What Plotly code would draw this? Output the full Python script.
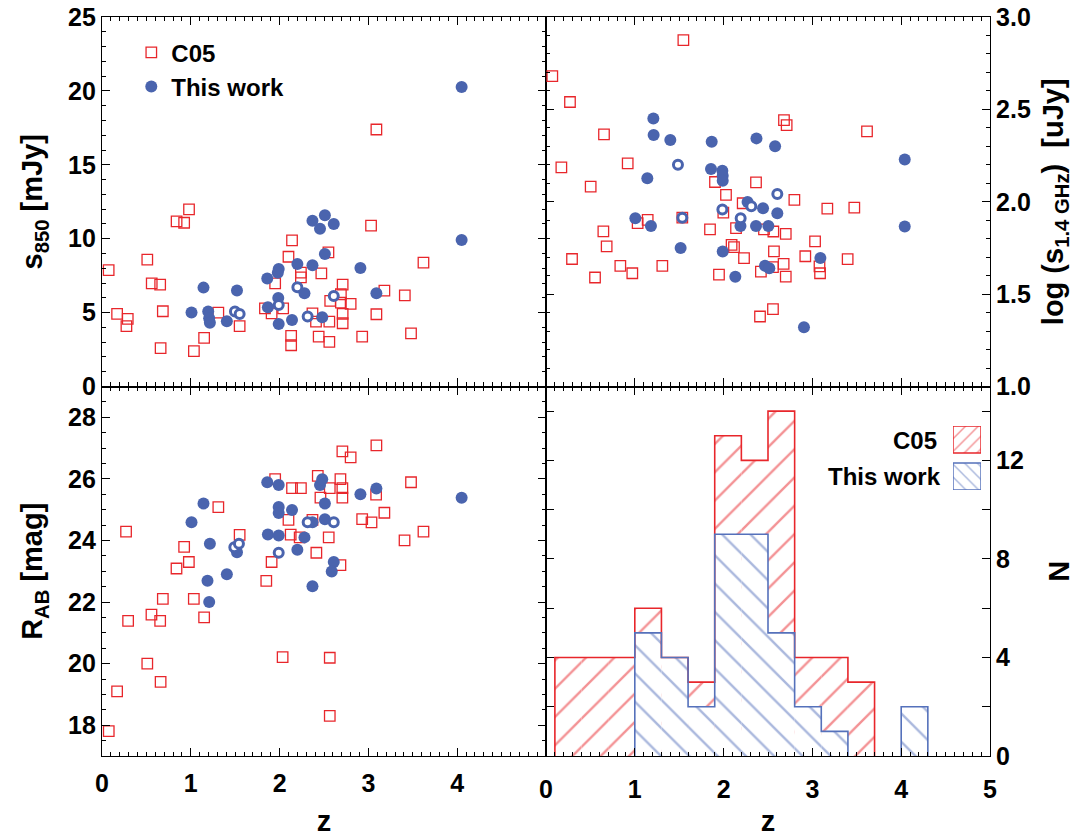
import plotly.graph_objects as go

RED = "#e8262b"
BLUE = "#4a64ae"
BLUE_LINE = "#5571bb"

# ---------------- data ----------------
# Panel 1: S850 vs z
c05_s850_z = [0.075, 0.17, 0.29, 0.275, 0.51, 0.56, 0.655, 0.685, 0.66, 0.84, 0.925, 0.98,
              1.035, 1.15, 1.31, 1.55, 1.835, 1.91, 1.95, 2.04, 2.10, 2.14, 2.24, 2.24,
              2.13, 2.13, 2.37, 2.41, 2.44, 2.47, 2.55, 2.57, 2.56, 2.56, 2.69, 2.71,
              2.69, 2.80, 2.71, 2.71, 2.93, 3.03, 3.09, 3.09, 3.18, 3.41, 3.48, 3.62]
c05_s850 = [7.88, 4.91, 4.57, 4.08, 8.58, 6.98, 6.89, 5.09, 2.59, 11.17, 11.08, 11.98,
            2.39, 3.29, 5.0, 4.08, 5.29, 4.95, 6.98, 5.29, 8.78, 9.89, 7.70, 7.39,
            3.42, 2.79, 4.95, 4.39, 3.38, 7.66, 9.08, 5.79, 4.39, 3.02, 6.24, 6.89,
            5.68, 5.59, 4.91, 4.28, 3.38, 10.88, 17.39, 4.89, 6.49, 6.17, 3.60, 8.38]
tw_s850_z = [1.008, 1.143, 1.196, 1.207, 1.215, 1.406, 1.52, 1.861, 1.99, 1.98, 1.985, 1.868,
             1.99, 2.14, 2.20, 2.28, 2.37, 2.455, 2.51, 2.61, 2.51, 2.37, 2.48, 2.91,
             3.09, 4.05, 4.05]
tw_s850 = [5.0, 6.69, 5.07, 4.62, 4.32, 4.41, 6.49, 7.30, 7.95, 7.70, 5.99, 5.36,
           4.23, 4.50, 8.29, 6.31, 11.22, 10.68, 11.58, 10.99, 8.96, 8.20, 4.68, 8.02,
           6.31, 20.27, 9.91]
tw_open_s850_z = [1.497, 1.55, 1.99, 2.20, 2.316, 2.61]
tw_open_s850 = [5.07, 4.91, 5.52, 6.71, 4.73, 6.13]

# Panel 2: log S1.4GHz vs z
c05_radio_z = [0.071, 0.27, 0.173, 0.503, 0.653, 0.646, 0.683, 0.293, 0.552, 0.837, 0.972, 0.92,
               1.032, 1.145, 1.31, 1.547, 1.535, 1.847, 1.903, 1.948, 2.027, 1.997, 2.09, 2.117,
               2.14, 2.23, 2.215, 2.365, 2.41, 2.42, 2.455, 2.56, 2.556, 2.556, 2.567, 2.676,
               2.70, 2.70, 2.68, 2.71, 2.797, 3.03, 2.92, 3.08, 3.086, 3.168, 3.397, 3.472, 3.615]
c05_radio = [2.68, 2.54, 2.186, 2.082, 2.365, 1.84, 1.758, 1.69, 1.59, 1.653, 1.613, 2.208,
             1.884, 1.902, 1.653, 2.875, 1.914, 1.851, 2.107, 1.606, 2.037, 1.941, 1.767, 1.754,
             1.857, 1.695, 1.992, 2.105, 1.379, 1.622, 1.851, 1.839, 1.646, 1.419, 1.731, 1.664,
             1.826, 1.595, 2.442, 2.415, 2.010, 1.785, 1.705, 1.65, 1.613, 1.963, 1.689, 1.968, 2.381]
tw_radio_z = [1.209, 1.212, 1.40, 1.141, 1.006, 1.182, 1.516, 1.866, 1.858, 1.986, 1.99, 1.99,
              1.99, 2.132, 2.27, 2.444, 2.605, 2.19, 2.365, 2.504, 2.37, 2.58, 2.466, 2.515,
              3.09, 2.905, 4.04, 4.04]
tw_radio = [2.451, 2.361, 2.334, 2.127, 1.911, 1.869, 1.750, 2.325, 2.177, 2.168, 2.141, 2.114,
            1.731, 1.594, 1.999, 1.965, 1.938, 1.869, 1.869, 1.869, 2.343, 2.30, 1.653, 1.64,
            1.695, 1.321, 2.229, 1.866]
tw_open_radio_z = [1.486, 1.535, 1.986, 2.192, 2.312, 2.605]
tw_open_radio = [2.20, 1.914, 1.958, 1.911, 1.976, 2.042]

# Panel 3: R_AB vs z
c05_rmag_z = [0.076, 0.17, 0.51, 0.66, 0.294, 0.557, 0.655, 0.685, 0.271, 0.839, 0.925, 0.978,
              1.034, 1.15, 1.31, 1.55, 1.85, 1.91, 1.95, 2.034, 2.10, 2.125, 2.14, 2.24,
              2.226, 2.37, 2.414, 2.43, 2.46, 2.565, 2.553, 2.565, 2.565, 2.685, 2.707, 2.80,
              2.707, 2.707, 2.685, 2.93, 3.035, 3.09, 3.087, 3.18, 3.407, 3.48, 3.62]
c05_rmag = [17.81, 19.10, 20.0, 19.41, 21.39, 21.59, 21.39, 22.10, 24.29, 23.09, 23.79, 23.30,
            22.10, 21.50, 25.08, 24.18, 22.69, 23.30, 25.99, 20.21, 24.67, 24.19, 25.70, 25.70,
            24.10, 24.67, 23.60, 26.10, 25.39, 25.70, 24.10, 20.19, 18.30, 25.99, 26.89, 26.70,
            25.70, 25.39, 23.20, 24.69, 24.59, 27.09, 25.49, 24.90, 24.0, 25.89, 24.29]
tw_rmag_z = [1.008, 1.143, 1.215, 1.188, 1.207, 1.406, 1.52, 1.861, 1.99, 1.99, 1.99, 2.14,
             1.868, 1.99, 2.20, 2.28, 2.37, 2.455, 2.48, 2.51, 2.51, 2.61, 2.587, 2.37,
             2.91, 3.09, 4.05]
tw_rmag = [24.59, 25.20, 23.89, 22.69, 22.0, 22.90, 23.62, 25.89, 25.80, 25.09, 24.89, 24.99,
           24.19, 24.16, 23.70, 24.10, 24.59, 25.80, 25.99, 25.20, 24.69, 23.30, 22.99, 22.51,
           25.50, 25.69, 25.39]
tw_open_rmag_z = [1.49, 1.542, 1.99, 2.316, 2.61]
tw_open_rmag = [23.78, 23.89, 23.60, 24.59, 24.59]

# Panel 4: redshift histograms
hist_edges = [0.1, 0.4, 0.7, 1.0, 1.3, 1.6, 1.9, 2.2, 2.5, 2.8, 3.1, 3.4, 3.7, 4.0, 4.3]
c05_counts = [4, 4, 4, 6, 4, 3, 13, 12, 14, 4, 4, 3, 0, 0]
tw_counts = [0, 0, 0, 5, 4, 2, 9, 9, 5, 2, 1, 0, 0, 2]

x_tick_left = [0, 1, 2, 3, 4]
x_tick_right = [0, 1, 2, 3, 4, 5]
n_tickvals = [0, 4, 8, 12]


def step_outline(edges, counts):
    xs, ys = [], []
    n = len(counts)
    i = 0
    while i < n:
        if counts[i] == 0:
            i += 1
            continue
        j = i
        while j < n and counts[j] > 0:
            j += 1
        xs += [edges[i], edges[i]]
        ys += [0, counts[i]]
        for k in range(i, j):
            xs.append(edges[k + 1]); ys.append(counts[k])
            if k + 1 < j:
                xs.append(edges[k + 1]); ys.append(counts[k + 1])
        xs.append(edges[j]); ys.append(0)
        xs.append(None); ys.append(None)
        i = j
    return xs, ys


centers = [(a + b) / 2 for a, b in zip(hist_edges[:-1], hist_edges[1:])]
widths = [b - a for a, b in zip(hist_edges[:-1], hist_edges[1:])]

fig = go.Figure()

sq = dict(symbol="square-open", size=10.5, color=RED, line=dict(color=RED, width=1.3))
dot = dict(symbol="circle", size=12, color=BLUE, line=dict(width=0))
ring = dict(symbol="circle", size=9, color="white", line=dict(color=BLUE, width=3))

panels = [
    ("x", "y", c05_s850_z, c05_s850, tw_s850_z, tw_s850, tw_open_s850_z, tw_open_s850),
    ("x2", "y2", c05_radio_z, c05_radio, tw_radio_z, tw_radio, tw_open_radio_z, tw_open_radio),
    ("x3", "y3", c05_rmag_z, c05_rmag, tw_rmag_z, tw_rmag, tw_open_rmag_z, tw_open_rmag),
]
for idx, (xa, ya, cz, cv, tz, tv, oz, ov) in enumerate(panels):
    fig.add_trace(go.Scatter(x=cz, y=cv, mode="markers", marker=sq, name="C05",
                             showlegend=(idx == 0), xaxis=xa, yaxis=ya))
    fig.add_trace(go.Scatter(x=tz, y=tv, mode="markers", marker=dot, name="This work",
                             showlegend=(idx == 0), xaxis=xa, yaxis=ya))
    fig.add_trace(go.Scatter(x=oz, y=ov, mode="markers", marker=ring, showlegend=False,
                             xaxis=xa, yaxis=ya))

# histograms
fig.add_trace(go.Bar(x=centers, y=c05_counts, width=widths, xaxis="x4", yaxis="y4",
                     marker=dict(color="white", line=dict(width=0),
                                 pattern=dict(shape="/", fgcolor=RED, bgcolor="white",
                                              size=20, solidity=0.12)),
                     showlegend=False))
rx, ry = step_outline(hist_edges, c05_counts)
fig.add_trace(go.Scatter(x=rx, y=ry, mode="lines", line=dict(color=RED, width=1.6),
                         xaxis="x4", yaxis="y4", showlegend=False))
fig.add_trace(go.Bar(x=centers, y=tw_counts, width=widths, xaxis="x4", yaxis="y4",
                     marker=dict(color="white", line=dict(width=0),
                                 pattern=dict(shape="\\", fgcolor=BLUE_LINE, bgcolor="white",
                                              size=20, solidity=0.12)),
                     showlegend=False))
bx, by = step_outline(hist_edges, tw_counts)
fig.add_trace(go.Scatter(x=bx, y=by, mode="lines", line=dict(color=BLUE_LINE, width=1.6),
                         xaxis="x4", yaxis="y4", showlegend=False))

# legend keys for histogram panel (small inset axis)
fig.add_trace(go.Bar(x=[0.5], y=[27], base=[37], width=[1], xaxis="x5", yaxis="y5",
                     marker=dict(color="white", line=dict(color=RED, width=1.5),
                                 pattern=dict(shape="/", fgcolor=RED, bgcolor="white",
                                              size=9, solidity=0.16)),
                     showlegend=False))
fig.add_trace(go.Bar(x=[0.5], y=[27], base=[0], width=[1], xaxis="x5", yaxis="y5",
                     marker=dict(color="white", line=dict(color=BLUE_LINE, width=1.5),
                                 pattern=dict(shape="\\", fgcolor=BLUE_LINE, bgcolor="white",
                                              size=9, solidity=0.16)),
                     showlegend=False))

TICKF = dict(size=25, color="black", family="Liberation Sans, Arial", weight="bold")
TITLEF = dict(size=29, color="black", family="Liberation Sans, Arial", weight="bold")


def ax(domain, anchor, rng, **kw):
    d = dict(domain=domain, anchor=anchor, range=rng, showline=True, linecolor="black",
             linewidth=1.2, mirror="allticks", ticks="inside", ticklen=8, tickwidth=1.3,
             tickcolor="black", showgrid=False, zeroline=False, tickfont=TICKF,
             automargin=False)
    d.update(kw)
    return d


minor_x = dict(dtick=0.1, tick0=0, ticklen=4, ticks="inside", tickcolor="black", tickwidth=1)

fig.update_layout(
    width=1075, height=837,
    margin=dict(l=102, r=85, t=17, b=81),
    paper_bgcolor="white", plot_bgcolor="white",
    font=dict(family="Liberation Sans, Arial", size=24, color="black", weight="bold"),
    barmode="overlay",
    xaxis=ax([0, 0.5], "y", [0, 5], dtick=1, tick0=0, minor=minor_x, showticklabels=False),
    yaxis=ax([0.5, 1], "x", [0, 25], dtick=5, tick0=0,
             minor=dict(dtick=1, ticklen=4, ticks="inside", tickcolor="black", tickwidth=1),
             title=dict(text="s<sub>850</sub> [mJy]", font=TITLEF, standoff=16)),
    xaxis2=ax([0.5, 1], "y2", [0, 5], dtick=1, tick0=0, minor=minor_x, showticklabels=False),
    yaxis2=ax([0.5, 1], "x2", [1, 3], side="right", dtick=0.5, tick0=1, tickformat=".1f",
              minor=dict(dtick=0.1, ticklen=4, ticks="inside", tickcolor="black", tickwidth=1),
              title=dict(text="log (s<sub>1.4 GHz</sub>)  [uJy]", font=TITLEF, standoff=12)),
    xaxis3=ax([0, 0.5], "y3", [0, 5], tickmode="array", tickvals=x_tick_left, minor=minor_x,
              ticklabelstandoff=5,
              title=dict(text="z", font=TITLEF, standoff=14)),
    yaxis3=ax([0, 0.5], "x3", [17, 29], dtick=2, tick0=18,
              minor=dict(dtick=0.5, tick0=17, ticklen=4, ticks="inside", tickcolor="black", tickwidth=1),
              title=dict(text="R<sub>AB</sub> [mag]", font=TITLEF, standoff=16)),
    xaxis4=ax([0.5, 1], "y4", [0, 5], tickmode="array", tickvals=x_tick_right, minor=minor_x,
              ticklabelstandoff=11,
              title=dict(text="z", font=TITLEF, standoff=12)),
    yaxis4=ax([0, 0.5], "x4", [0, 15], side="right", tickmode="array", tickvals=n_tickvals,
              minor=dict(dtick=2, tick0=0, ticklen=8, ticks="inside", tickcolor="black", tickwidth=1.3),
              title=dict(text="N", font=TITLEF, standoff=26)),
    xaxis5=dict(domain=[0.9583, 0.9899], anchor="y5", range=[0, 1], visible=False, fixedrange=True),
    yaxis5=dict(domain=[0.3599, 0.4465], anchor="x5", range=[0, 64], visible=False, fixedrange=True),
    legend=dict(x=0.033, y=0.982, xanchor="left", yanchor="top", bgcolor="rgba(0,0,0,0)",
                font=dict(size=24, color="black", family="Liberation Sans, Arial", weight="bold"),
                tracegroupgap=0, itemsizing="trace"),
    annotations=[
        dict(text="C05", x=0.9426, y=0.4276, xref="paper", yref="paper", xanchor="right",
             yanchor="middle", showarrow=False, font=dict(size=24, color="black", weight="bold")),
        dict(text="This work", x=0.947, y=0.378, xref="paper", yref="paper", xanchor="right",
             yanchor="middle", showarrow=False, font=dict(size=24, color="black", weight="bold")),
    ],
)

fig.write_html("out.html")
